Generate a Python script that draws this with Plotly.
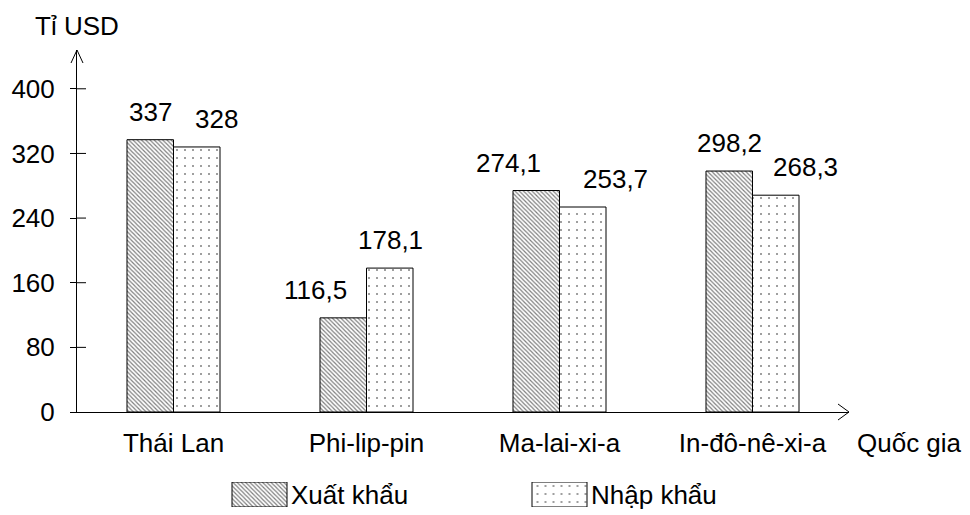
import plotly.graph_objects as go

countries = ['Thái Lan', 'Phi-lip-pin', 'Ma-lai-xi-a', 'In-đô-nê-xi-a']
xuat_khau = [337, 116.5, 274.1, 298.2]
nhap_khau = [328, 178.1, 253.7, 268.3]
series_names = ['Xuất khẩu', 'Nhập khẩu']
y_ticks = [0, 80, 160, 240, 320, 400]

FONT = 'Liberation Sans, Arial, sans-serif'
FS = 26
OFF = 8  # page body margin
W, H = 970 - OFF, 515 - OFF
L, R, T, B = 77 - OFF, 121, 50 - OFF, 5
PW, PH = W - L - R, H - T - B
Y0_PX = 412
BARGAP = 0.518

PATTERNS = [
    dict(shape='\\', size=3, solidity=0.4, fgcolor='black', bgcolor='white'),
    dict(shape='.', size=8, solidity=0.05, fgcolor='black', bgcolor='white'),
]
# extra horizontal nudges of the value labels, as in the original
LABEL_NUDGE = [[0, 20], [-28, 1], [-28, 33], [0, 30]]


def px(x):
    # reference-image pixel -> paper x
    return (x - OFF - L) / PW


def py(y):
    # reference-image pixel -> paper y
    return (H - B - (y - OFF)) / PH


def fmt(v):
    return f'{v:g}'.replace('.', ',')


fig = go.Figure()
for name, vals, pat in zip(series_names, [xuat_khau, nhap_khau], PATTERNS):
    fig.add_trace(go.Bar(
        x=countries, y=vals, name=name,
        marker=dict(color='white', pattern=pat, line=dict(color='black', width=1)),
        showlegend=False,
    ))

# legend swatches drawn as bars on a small helper axis
fig.add_trace(go.Bar(
    x=[0, 1], y=[1, 1], width=55 / 300, xaxis='x2', yaxis='y2',
    marker=dict(color='white', line=dict(color='black', width=1),
                pattern=dict(shape=[p['shape'] for p in PATTERNS],
                             size=[p['size'] for p in PATTERNS],
                             solidity=[p['solidity'] for p in PATTERNS],
                             fgcolor='black', bgcolor='white')),
    showlegend=False, hoverinfo='skip',
))

annotations = []
half = (1 - BARGAP) * (PW / len(countries)) / 4
for i, c in enumerate(countries):
    for j, vals in enumerate([xuat_khau, nhap_khau]):
        annotations.append(dict(
            x=c, y=vals[i], xref='x', yref='y', text=fmt(vals[i]),
            showarrow=False, yshift=28,
            xshift=(-half if j == 0 else half) + LABEL_NUDGE[i][j],
            font=dict(family=FONT, size=FS, color='black'),
        ))

for k, name in enumerate(series_names):
    annotations.append(dict(
        x=k + 55 / 600, y=0.5, xref='x2', yref='y2', text=name,
        xanchor='left', yanchor='middle', xshift=2, showarrow=False,
        font=dict(family=FONT, size=FS, color='black'),
    ))

annotations += [
    dict(x=0, y=py(26), xref='paper', yref='paper', text='Tỉ USD',
         xanchor='center', yanchor='middle', showarrow=False,
         font=dict(family=FONT, size=FS, color='black')),
    dict(x=px(855), y=py(443), xref='paper', yref='paper', text='Quốc gia',
         xanchor='left', yanchor='middle', showarrow=False,
         font=dict(family=FONT, size=FS, color='black')),
]

shapes = [
    dict(type='path', xref='paper', yref='paper', line=dict(color='black', width=1),
         path=f'M{px(71)},{py(63)} L{px(77)},{py(50)} L{px(83)},{py(63)}'),
    dict(type='path', xref='paper', yref='paper', line=dict(color='black', width=1),
         path=f'M{px(838)},{py(404)} L{px(849)},{py(412)} L{px(838)},{py(420)}'),
]
for t in y_ticks[1:]:
    shapes.append(dict(type='line', xref='paper', yref='y', x0=0, x1=px(86),
                       y0=t, y1=t, line=dict(color='black', width=1)))

fig.update_layout(
    width=W, height=H,
    margin=dict(l=L, r=R, t=T, b=B, autoexpand=False),
    plot_bgcolor='white', paper_bgcolor='white',
    barmode='group', bargap=BARGAP, bargroupgap=0,
    font=dict(family=FONT, size=FS, color='black'),
    xaxis=dict(
        showline=True, linecolor='black', linewidth=1, showgrid=False,
        ticks='', range=[-0.5, 3.5], ticklabelstandoff=8, automargin=False,
        tickfont=dict(family=FONT, size=FS, color='black'),
    ),
    yaxis=dict(
        domain=[py(Y0_PX), 1], range=[0, 448], automargin=False,
        showline=True, linecolor='black', linewidth=1, showgrid=False,
        zeroline=False, tickvals=y_ticks, ticks='outside', ticklen=6,
        tickcolor='black', ticklabelstandoff=10,
        tickfont=dict(family=FONT, size=FS, color='black'),
    ),
    xaxis2=dict(domain=[px(109.5), px(709.5)], range=[-0.5, 1.5], visible=False,
                anchor='y2'),
    yaxis2=dict(domain=[py(507), py(482)], range=[0, 1], visible=False, anchor='x2'),
    annotations=annotations,
    shapes=shapes,
)

fig.write_html('out.html')
